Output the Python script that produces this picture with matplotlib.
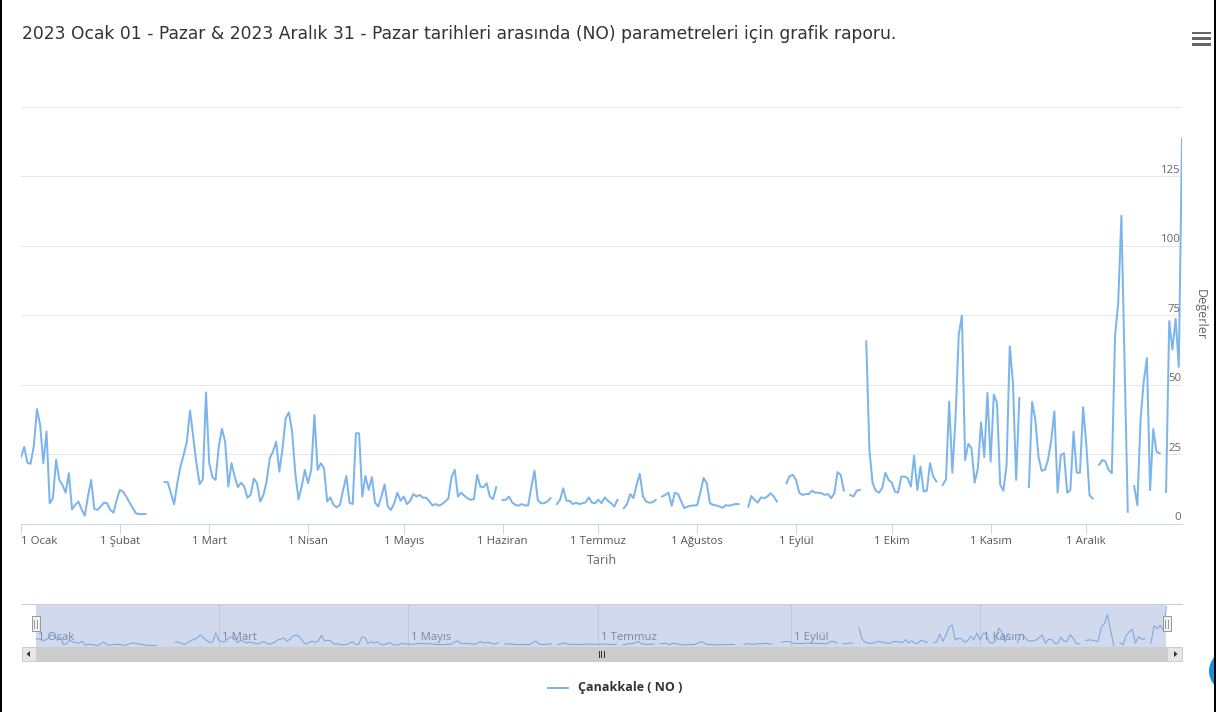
import numpy as np
import pandas as pd
import matplotlib
matplotlib.use('Agg')
import matplotlib.pyplot as plt
from matplotlib.patches import Rectangle, Circle, Polygon
from matplotlib import transforms

plt.rcParams['font.family'] = ['Open Sans', 'DejaVu Sans']

W, H = 1216, 712
N = None

# ---- data (daily NO values, None = missing) ----
jan = [23.9, 27.6, 21.9, 21.5, 27.7, 41.2, 35.5, 21.7, 33.1, 7.3, 9.1, 22.9, 15.7, 13.9, 11.1,
       18.1, 5.1, 6.7, 7.9, 5.1, 2.8, 9.9, 15.7, 5.2, 4.9, 6.1, 7.5, 7.3, 4.9, 3.9, 8.5]
feb = [12.1, 11.5, 9.7, 7.6, 5.7, 3.7, 3.4, 3.4, 3.4, N, N, N, N, N,
       14.9, 14.9, 10.9, 6.9, 14.5, 20.5, 24.7, 29.5, 40.7, 31.3, 21.7, 14.2, 15.9, 47.2]
mar = [21.9, 16.7, 15.7, 27.7, 34.1, 29.5, 13.3, 21.7, 16.9, 13.1, 14.7, 13.3, 9.3, 10.3, 16.2,
       14.5, 7.9, 10.3, 15.1, 23.5, 25.9, 29.5, 18.7, 27.1, 38.0, 40.0, 33.1, 18.1, 8.7, 13.3, 19.3]
apr = [14.5, 19.3, 39.1, 19.3, 21.7, 19.9, 7.9, 9.4, 6.7, 5.8, 6.7, 12.1, 17.1, 7.5, 7.0,
       32.5, 32.5, 9.7, 17.1, 12.1, 16.7, 7.5, 6.1, 9.7, 14.1, 6.1, 4.9, 7.3, 11.1, 8.2]
may = [9.7, 7.0, 8.1, 10.6, 9.7, 10.3, 9.3, 9.3, 8.1, 6.5, 7.0, 6.4, 7.0, 7.9, 9.1,
       16.9, 19.3, 9.7, 11.1, 10.0, 9.1, 8.5, 8.8, 17.5, 13.3, 13.1, 14.5, 9.7, 8.8, 13.1, N]
jun = [8.5, 8.5, 9.7, 7.6, 6.7, 6.4, 7.0, 6.5, 6.5, 13.1, 19.0, 8.5, 7.3, 7.3, 7.9,
       9.1, N, 7.0, 8.5, 12.7, 8.2, 8.2, 7.0, 7.5, 7.0, 7.3, 7.6, 9.4, 7.5, 7.3]
jul = [8.6, 7.3, 9.4, 8.2, 7.3, 6.1, 8.5, N, 5.5, 7.0, 10.6, 9.1, 13.9, 17.9, 9.7,
       7.9, 7.5, 7.6, 8.5, N, 9.7, 10.3, 11.1, 6.4, 11.1, 10.6, 7.9, 5.5, 6.1, 6.4, 6.5]
aug = [6.6, 11.1, 16.4, 14.5, 7.3, 6.7, 6.5, 6.1, 5.7, 6.6, 6.4, 6.7, 7.0, 7.0, N,
       N, 6.1, 9.9, 8.5, 7.5, 9.4, 9.1, 9.7, 10.9, 9.7, 7.9, N, N, 14.5, 17.1, 17.5]
sep = [15.7, 11.1, 10.3, 10.6, 10.6, 11.8, 11.1, 11.1, 10.9, 10.3, 10.6, 9.1, 10.9, 18.5, 17.5,
       11.8, N, 10.3, 9.7, 11.8, 12.1, N, 65.6, 26.5, 14.5, 11.8, 11.1, 12.7, 18.3, 15.7]
oct_ = [14.7, 11.5, 11.1, 16.9, 16.9, 16.3, 13.3, 24.4, 12.1, 20.5, 11.5, 11.8, 21.7, 16.9, 15.1,
        N, 13.9, 15.9, 43.9, 18.3, 38.0, 68.0, 74.9, 22.9, 28.7, 27.1, 14.7, 19.9, 36.4, 23.9, 47.0]
nov = [22.3, 46.4, 43.4, 13.9, 11.8, 21.1, 63.8, 50.6, 15.7, 45.2, N, N, 13.1, 43.8, 37.5,
       24.1, 19.0, 19.3, 22.9, 30.1, 40.4, 11.1, 24.7, 25.3, 11.1, 12.0, 33.1, 18.3, 18.3, 41.9]
dec = [28.3, 10.2, 9.0, N, 21.1, 22.9, 22.3, 19.3, 18.1, 67.5, 79.5, 110.8, 58.0, 4.2, N,
       13.5, 6.6, 37.3, 51.2, 59.6, 12.0, 34.0, 25.9, 25.3, N, 11.4, 72.9, 62.7, 73.7, 56.4, 138.6]

title = ("2023 Ocak 01 - Pazar & 2023 Aralık 31 - Pazar tarihleri arasında "
         "(NO) parametreleri için grafik raporu.")
series_name = "Çanakkale ( NO )"
x_title = "Tarih"
y_title = "Değerler"
month_labels = ['1 Ocak', '1 Şubat', '1 Mart', '1 Nisan', '1 Mayıs', '1 Haziran',
                '1 Temmuz', '1 Ağustos', '1 Eylül', '1 Ekim', '1 Kasım', '1 Aralık']
nav_labels = ['1 Ocak', '1 Mart', '1 Mayıs', '1 Temmuz', '1 Eylül', '1 Kasım']
y_ticks = [0, 25, 50, 75, 100, 125, 150]
y_tick_labels = ['0', '25', '50', '75', '100', '125', '']

raw = jan + feb + mar + apr + may + jun + jul + aug + sep + oct_ + nov + dec
values = np.array([np.nan if v is None else v for v in raw], dtype=float)
dates = pd.date_range('2023-01-01', '2023-12-31', freq='D')
month_starts = pd.date_range('2023-01-01', periods=12, freq='MS')
nav_months = month_starts[::2]

LINE = '#7cb5ec'
PX = 0.72  # one pixel in points

fig = plt.figure(figsize=(W / 100, H / 100), dpi=100)
fig.patch.set_facecolor('white')

# ---- main chart ----
ax = fig.add_axes([21 / W, 1 - 523.5 / H, 1161 / W, 416.5 / H])
ax.plot(dates, values, color=LINE, lw=2 * PX, solid_joinstyle='round', zorder=3)
ax.set_xlim(dates[0], dates[-1])
ax.set_ylim(0, 150)
ax.set_yticks(y_ticks)
ax.tick_params(axis='y', left=False, labelleft=False)
ax.grid(axis='y', color='#e6e6e6', lw=PX)
ax.set_axisbelow(True)
for s in ['top', 'left', 'right']:
    ax.spines[s].set_visible(False)
ax.spines['bottom'].set_color('#ccd6eb')
ax.spines['bottom'].set_linewidth(PX)
ax.set_xticks(month_starts)
ax.set_xticklabels(month_labels, fontsize=8.2, color='#555555')
ax.tick_params(axis='x', length=10 * PX, width=PX, color='#ccd6eb', pad=2)
ax.get_xticklabels()[0].set_ha('left')

ytrans = transforms.offset_copy(transforms.blended_transform_factory(ax.transAxes, ax.transData),
                                fig=fig, x=-1, y=6, units='dots')
for v, lab in zip(y_ticks, y_tick_labels):
    ax.text(1, v, lab, transform=ytrans, ha='right', va='center', fontsize=8.2,
            color='#666666', zorder=6)

# ---- navigator ----
nav = fig.add_axes([35.5 / W, 1 - 646.5 / H, 1131 / W, 43 / H])
nav.set_xlim(dates[0], dates[-1])
nav.set_ylim(0, 150)
nav.axis('off')
for d in nav_months:
    nav.axvline(d, color='#e6e6e6', lw=PX, zorder=1)
ntrans = transforms.offset_copy(transforms.blended_transform_factory(nav.transData, nav.transAxes),
                                fig=fig, x=3, y=0, units='dots')
for d, lab in zip(nav_months, nav_labels):
    nav.text(d, 0.22, lab, transform=ntrans, ha='left', va='center', fontsize=8.2,
             color='#888888', zorder=2)
nav.plot(dates, values, color=LINE, lw=PX, zorder=3)
nav.axvspan(dates[0], dates[-1], color=(102 / 255, 133 / 255, 194 / 255), alpha=0.3, lw=0, zorder=5)

# ---- overlay decorations ----
ov = fig.add_axes([0, 0, 1, 1], zorder=10)
ov.set_xlim(0, W)
ov.set_ylim(H, 0)
ov.axis('off')
ov.patch.set_alpha(0)

ov.text(22, 34, title, ha='left', va='center', fontsize=12.3, color='#333333',
        family=['DejaVu Sans'])
for yy in (31.5, 37.2, 42.9):
    ov.add_patch(Rectangle((1192, yy), 19, 2.8, color='#666666', lw=0))

ov.text(602, 561, x_title, ha='center', va='center', fontsize=9, color='#666666')
ov.text(1200, 315, y_title, rotation=270, ha='center', va='center', fontsize=9, color='#666666')

# navigator outline and handles
ov.plot([22, 1182], [603.5, 603.5], color='#cccccc', lw=PX)
for hx in (35.5, 1166.5):
    ov.add_patch(Rectangle((hx - 4, 616), 8, 15, facecolor='#f2f2f2', edgecolor='#999999', lw=PX))
    for lx in (hx - 1.3, hx + 1.3):
        ov.plot([lx, lx], [619.5, 627.5], color='#999999', lw=PX)

# scrollbar
ov.add_patch(Rectangle((22, 647), 1160, 14, facecolor='#f2f2f2', edgecolor='none'))
ov.add_patch(Rectangle((35.5, 647), 1131, 14, facecolor='#cccccc', edgecolor='#cccccc', lw=PX))
ov.add_patch(Rectangle((22, 647), 13.5, 14, facecolor='#e6e6e6', edgecolor='#cccccc', lw=PX))
ov.add_patch(Rectangle((1166.5, 647), 15.5, 14, facecolor='#e6e6e6', edgecolor='#cccccc', lw=PX))
ov.add_patch(Polygon([[26.5, 654], [30, 651], [30, 657]], closed=True, color='#333333', lw=0))
ov.add_patch(Polygon([[1177.5, 654], [1174, 651], [1174, 657]], closed=True, color='#333333', lw=0))
for gx in (598.5, 601, 603.5):
    ov.plot([gx, gx], [651, 657], color='#333333', lw=PX)

# legend
ov.plot([548, 568], [688, 688], color=LINE, lw=2 * PX)
ov.text(578, 688, series_name, ha='left', va='center', fontsize=9, fontweight='bold', color='#333333')

# frame and floating button
ov.plot([1, 1], [0, H], color='black', lw=2 * PX)
ov.plot([1214.5, 1214.5], [0, H], color='black', lw=2 * PX)
ov.add_patch(Circle((1230, 671), 21, color='#1e8ed8', lw=0))

fig.savefig('out.png', dpi=100, facecolor='white')
